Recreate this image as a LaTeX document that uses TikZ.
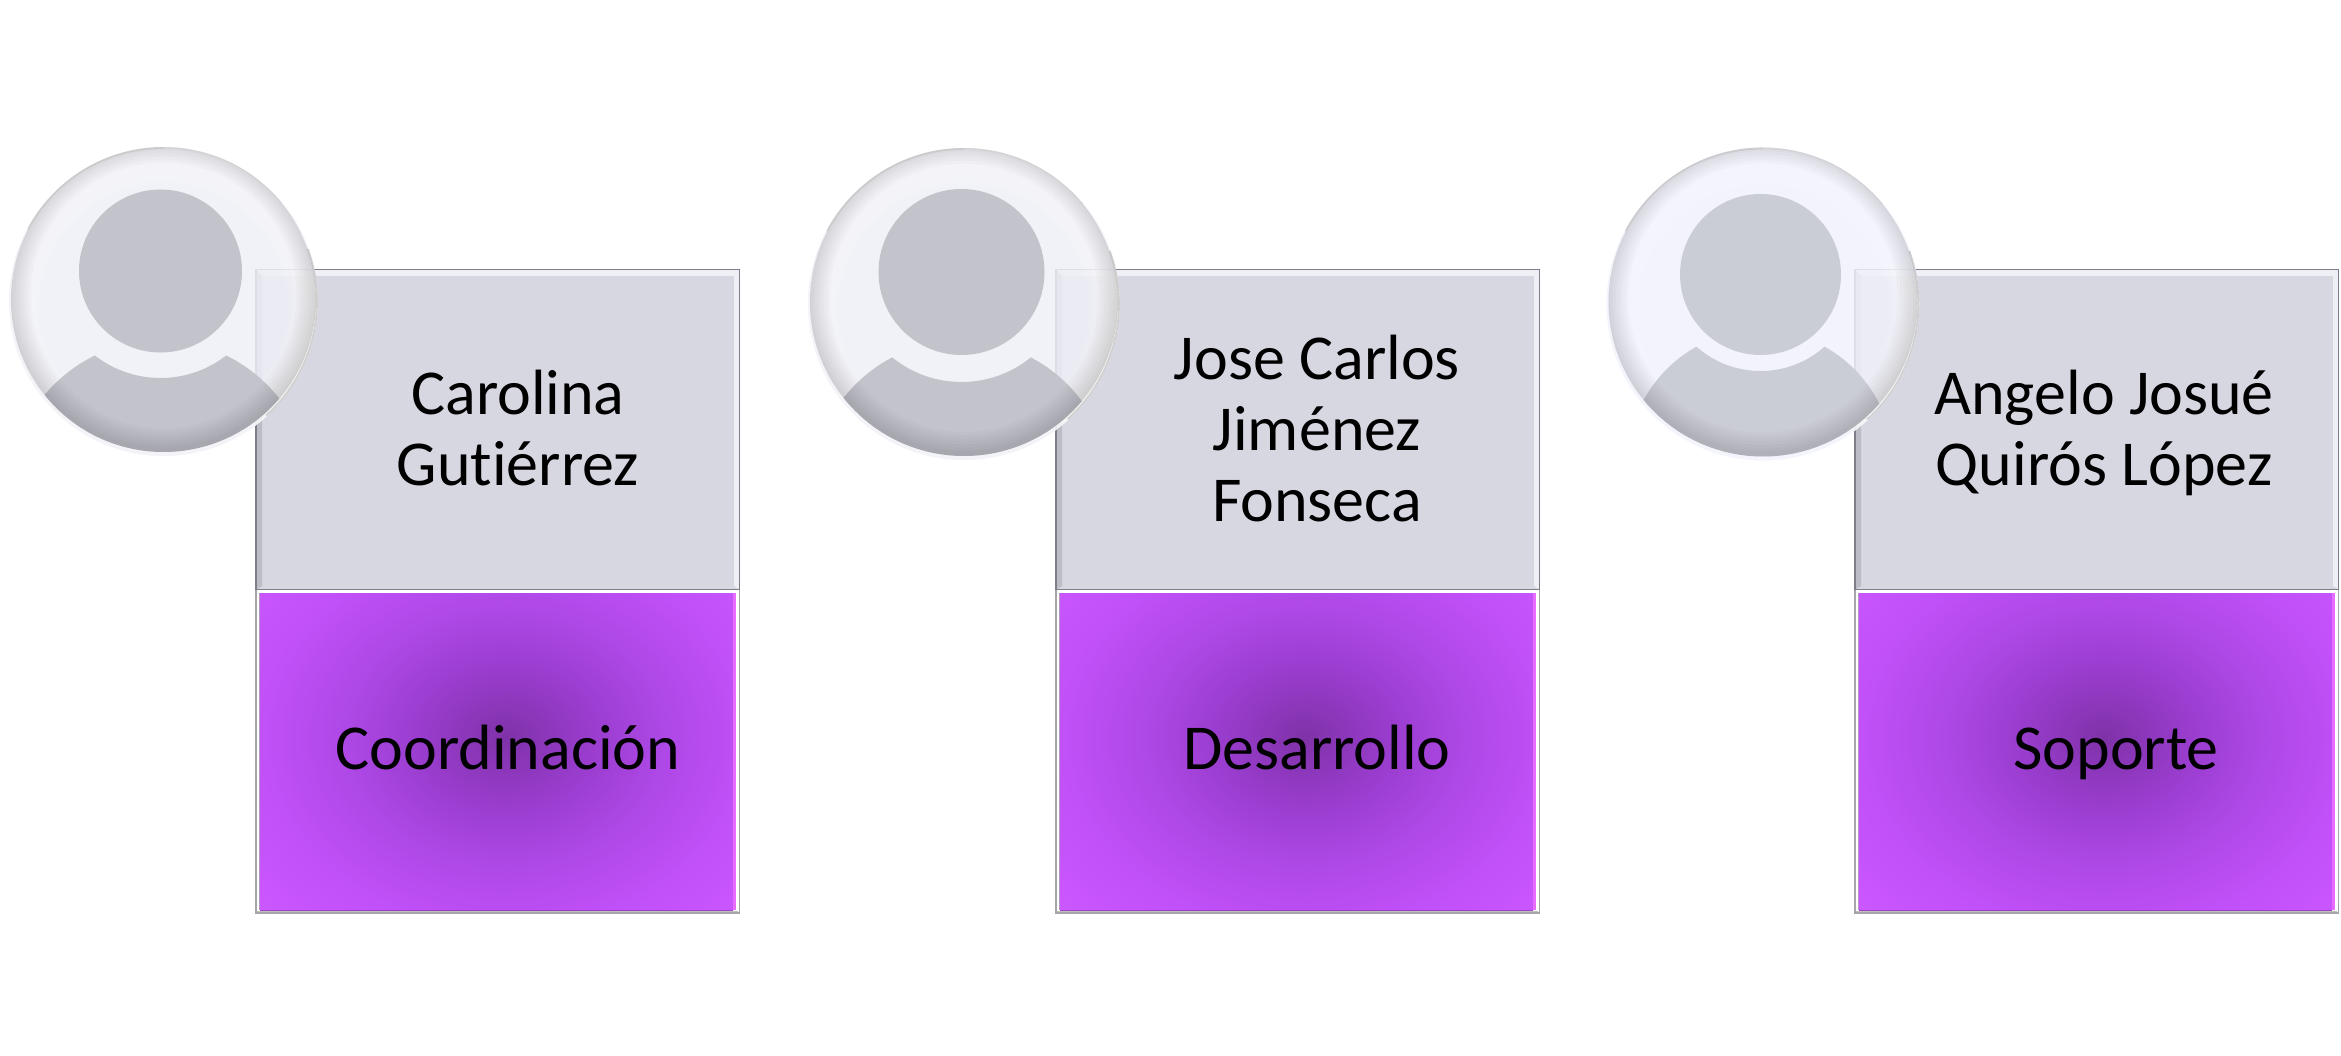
\documentclass[tikz,border=0pt]{standalone}
\usepackage{fontspec}
\setmainfont[Ligatures=NoCommon]{Carlito}
\definecolor{facegrey}{HTML}{D7D7E2}
\definecolor{boxline}{HTML}{7E7E88}
\definecolor{bevdark}{HTML}{BCBCC4}
\definecolor{bevlight}{HTML}{EFEFF6}
\definecolor{purplerim}{HTML}{E86CFF}
\definecolor{purpledark}{HTML}{A040C8}
\definecolor{pA}{HTML}{7F32A8}
\definecolor{pB}{HTML}{9A3DCF}
\definecolor{pC}{HTML}{AE48E6}
\definecolor{pD}{HTML}{C050F8}
\definecolor{pE}{HTML}{CB57FF}
\definecolor{discHead}{HTML}{C2C3CB}
\definecolor{discBase}{HTML}{EFF0F7}
\pgfdeclareradialshading{purpleglow}{\pgfpointorigin}{color(0bp)=(pA); color(8.75bp)=(pB); color(16bp)=(pC); color(24bp)=(pD); color(32.5bp)=(pE); color(50bp)=(pE)}
\tikzset{
  label text/.style={font=\fontsize{64pt}{71pt}\selectfont, text=black, align=center, inner sep=0pt},
}
% #1 left x of the card
\newcommand{\cardshape}[1]{%
  \begin{scope}[shift={(#1,0)}]
    % grey card
    \fill[white] (0,269.5) rectangle (483.5,589.5);
    \fill[facegrey] (0,269.5) rectangle (483.5,589.5);
    \fill[bevlight] (1,270) -- (483,270) -- (478,276) -- (6,276) -- cycle;
    \fill[bevdark] (1,270) -- (6,276) -- (6,586) -- (1,589) -- cycle;
    \fill[bevlight] (483,270) -- (478,276) -- (478,586) -- (483,589) -- cycle;
    \draw[boxline, line width=1.1pt] (0,269.5) rectangle (483.5,589.5);
    % purple card
    \fill[white] (0,590) rectangle (483.5,913);
    \begin{scope}
      \clip (4,593) rectangle (477,910);
      \shade[shading=purpleglow] ({249-250},{737-200}) rectangle ({249+250},{737+200});
    \end{scope}
    \fill[purplerim] (477,593) rectangle (480,910);
    \fill[bevdark!70!purpledark] (2.5,593) rectangle (4,910);
    \fill[purpledark!80!black, opacity=.6] (4,909.5) rectangle (477,911);
    \fill[black!25] (1,911) rectangle (482,912.5);
    \draw[boxline!70!white, line width=1.1pt] (0,589.5) -- (0,913) -- (483.5,913) -- (483.5,589.5);
  \end{scope}}
% #1 cx #2 cy #3 R #4 hx #5 hy #6 hr #7 ring r #8 shoulder y #9 shoulder r
\newcommand{\glassface}[9]{%
  \begin{scope}
    \fill[discBase, opacity=.84] (#1,#2) circle[radius=#3];
    \begin{scope}
      \clip (#1,#2) circle[radius=#3];
      \foreach \t in {.80,.82,...,1.02}{
        \fill[white, opacity=.09, even odd rule] (#1,#2) circle[radius=#3] (#1,#2+6) circle[radius={#3*\t}];
      }
    \end{scope}
    \fill[discHead, opacity=.98] (#4,#5) circle[radius=#6];
    \begin{scope}
      \clip (#1,#2-2) circle[radius=#3-2];
      \clip (#4,#8) circle[radius=#9];
      \fill[discHead, opacity=.98, even odd rule] (#1-#3,#2-#3) rectangle (#1+#3,#2+#3) (#4,#5) circle[radius=#7];
    \end{scope}
    \begin{scope}
      \clip (#1,#2-2) circle[radius=#3-2];
      \foreach \t in {.86,.88,...,1.0}{
        \fill[black, opacity=.021, even odd rule] (#1,#2-2) circle[radius=#3] (#1,#2-6) circle[radius={#3*\t}];
      }
    \end{scope}
    \draw[black!22, line width=1.6pt, opacity=.8] (#1,#2-#3+1) arc[start angle=-90, delta angle=-62, radius=#3-1];
    \draw[black!18, line width=1.2pt, opacity=.7] (#1,#2-#3+1) arc[start angle=-90, delta angle=50, radius=#3-1];
    \draw[black!40, line width=1.8pt, opacity=.4] (#1+#3-1,#2) arc[start angle=0, delta angle=-20, radius=#3-1];
    \draw[black!40, line width=1.8pt, opacity=.4] (#1+#3-1,#2) arc[start angle=0, delta angle=48, radius=#3-1];
  \end{scope}}
\begin{document}
\begin{tikzpicture}[x=1pt,y=-1pt]
  \useasboundingbox (0,0) rectangle (2341,1056);
  \fill[white] (0,0) rectangle (2341,1056);
  \cardshape{256}
  \cardshape{1056}
  \cardshape{1855}
  \glassface{163.5}{301.5}{154.5}{160.5}{271}{81.5}{107}{491}{150.5}
  \glassface{964}{304}{156}{961.5}{272}{83}{110}{490}{149.6}
  \definecolor{discHead}{HTML}{CBCDD6}
  \definecolor{discBase}{HTML}{F1F1FC}
  \glassface{1763}{304}{156.5}{1760.5}{274.5}{80.5}{96.5}{462.7}{132.5}
  \node[label text] (name1) at (518,428.5) {Carolina\\Gutiérrez};
  \node[label text] (name2) at (1317,429) {Jose Carlos\\Jiménez\\Fonseca};
  \node[label text] (name3) at (2104,433) {Angelo Josué\\Quirós López};
  \node[label text, anchor=base] (role1) at (508,769) {Coordinación};
  \node[label text, anchor=base] (role2) at (1317,769) {Desarrollo};
  \node[label text, anchor=base] (role3) at (2116,769) {Soporte};
\end{tikzpicture}
\end{document}
